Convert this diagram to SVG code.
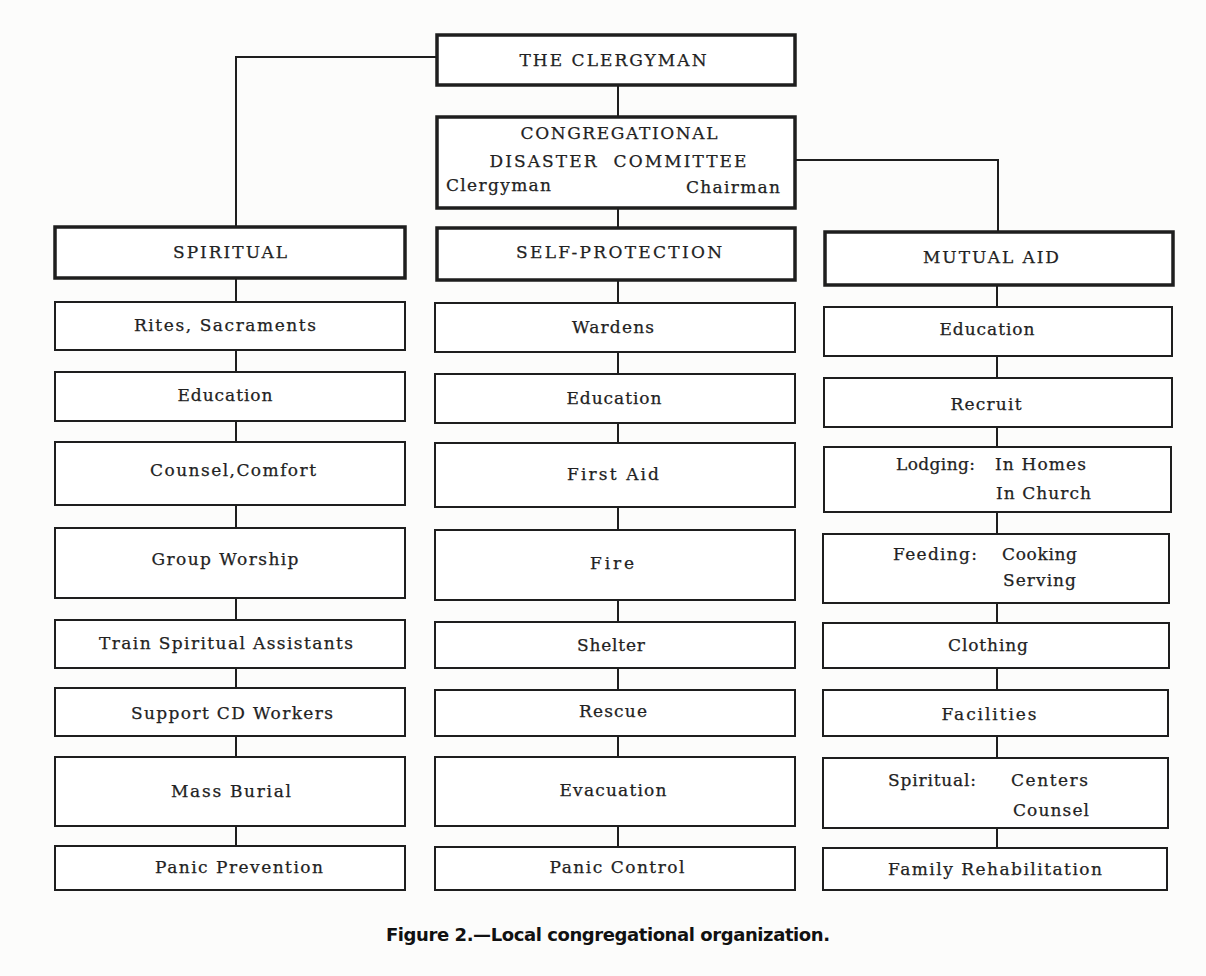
<svg xmlns="http://www.w3.org/2000/svg" width="1206" height="976" viewBox="0 0 1206 976">
<style>
.bx{fill:#fff;stroke:#1e1e1e;stroke-width:2}
.hd{fill:#fff;stroke:#1e1e1e;stroke-width:3.5}
.t{font-family:"DejaVu Serif","Liberation Serif",serif;font-size:17px;fill:#222;text-anchor:middle;stroke:#222;stroke-width:0.25}
.tl{font-family:"DejaVu Serif","Liberation Serif",serif;font-size:17px;fill:#222;text-anchor:start;stroke:#222;stroke-width:0.25}
.cn{fill:none;stroke:#1e1e1e;stroke-width:2}
.cap{font-family:"DejaVu Sans","Liberation Sans",sans-serif;font-size:18px;font-weight:bold;fill:#111;text-anchor:middle}
</style>
<rect width="1206" height="976" fill="#fcfcfb"/>
<g id="connectors">
<path class="cn" d="M437,57 H236 V227"/>
<path class="cn" d="M618,85 V117"/>
<path class="cn" d="M795,160 H998 V232"/>
<path class="cn" d="M618,208 V228"/>
<path class="cn" d="M236,278 V846"/>
<path class="cn" d="M618,280 V847"/>
<path class="cn" d="M997,285 V848"/>
</g>
<g id="clergyman"><rect class="hd" x="437" y="35" width="358" height="50"/><text class="t" x="613" y="66" textLength="187">THE CLERGYMAN</text></g>
<g id="committee"><rect class="hd" x="437" y="117" width="358" height="91"/>
<text class="t" x="619" y="139" textLength="197">CONGREGATIONAL</text>
<text class="t" x="618" y="167" textLength="257" xml:space="preserve">DISASTER  COMMITTEE</text>
<text class="tl" x="446" y="191" textLength="105">Clergyman</text>
<text class="tl" x="686" y="193" textLength="94">Chairman</text></g>

<g id="spiritual"><rect class="hd" x="55" y="227" width="350" height="51"/><text class="t" x="230" y="258" textLength="114">SPIRITUAL</text></g>
<g id="rites"><rect class="bx" x="55" y="302" width="350" height="48"/><text class="t" x="225" y="331" textLength="182">Rites, Sacraments</text></g>
<g id="education-s"><rect class="bx" x="55" y="372" width="350" height="49"/><text class="t" x="225" y="401" textLength="95">Education</text></g>
<g id="counsel"><rect class="bx" x="55" y="442" width="350" height="63"/><text class="t" x="233" y="476" textLength="166">Counsel,Comfort</text></g>
<g id="worship"><rect class="bx" x="55" y="528" width="350" height="70"/><text class="t" x="225" y="565" textLength="147">Group Worship</text></g>
<g id="train"><rect class="bx" x="55" y="620" width="350" height="48"/><text class="t" x="226" y="649" textLength="254">Train Spiritual Assistants</text></g>
<g id="support"><rect class="bx" x="55" y="688" width="350" height="48"/><text class="t" x="232" y="719" textLength="202">Support CD Workers</text></g>
<g id="burial"><rect class="bx" x="55" y="757" width="350" height="69"/><text class="t" x="231" y="797" textLength="120">Mass Burial</text></g>
<g id="panic-prev"><rect class="bx" x="55" y="846" width="350" height="44"/><text class="t" x="239" y="873" textLength="168">Panic Prevention</text></g>

<g id="selfprot"><rect class="hd" x="437" y="228" width="358" height="52"/><text class="t" x="619" y="258" textLength="206">SELF-PROTECTION</text></g>
<g id="wardens"><rect class="bx" x="435" y="303" width="360" height="49"/><text class="t" x="613" y="333" textLength="82">Wardens</text></g>
<g id="education-p"><rect class="bx" x="435" y="374" width="360" height="49"/><text class="t" x="614" y="404" textLength="95">Education</text></g>
<g id="firstaid"><rect class="bx" x="435" y="443" width="360" height="64"/><text class="t" x="613" y="480" textLength="92">First Aid</text></g>
<g id="fire"><rect class="bx" x="435" y="530" width="360" height="70"/><text class="t" x="612" y="569" textLength="44">Fire</text></g>
<g id="shelter"><rect class="bx" x="435" y="622" width="360" height="46"/><text class="t" x="611" y="651" textLength="68">Shelter</text></g>
<g id="rescue"><rect class="bx" x="435" y="690" width="360" height="46"/><text class="t" x="613" y="717" textLength="68">Rescue</text></g>
<g id="evacuation"><rect class="bx" x="435" y="757" width="360" height="69"/><text class="t" x="613" y="796" textLength="107">Evacuation</text></g>
<g id="panic-ctrl"><rect class="bx" x="435" y="847" width="360" height="43"/><text class="t" x="617" y="873" textLength="135">Panic Control</text></g>

<g id="mutualaid"><rect class="hd" x="825" y="232" width="348" height="53"/><text class="t" x="991" y="263" textLength="136">MUTUAL AID</text></g>
<g id="education-m"><rect class="bx" x="824" y="307" width="348" height="49"/><text class="t" x="987" y="335" textLength="95">Education</text></g>
<g id="recruit"><rect class="bx" x="824" y="378" width="348" height="49"/><text class="t" x="986" y="410" textLength="71">Recruit</text></g>
<g id="lodging"><rect class="bx" x="824" y="447" width="347" height="65"/>
<text class="tl" x="896" y="470" textLength="79">Lodging:</text>
<text class="tl" x="995" y="470" textLength="91">In Homes</text>
<text class="tl" x="996" y="499" textLength="95">In Church</text></g>
<g id="feeding"><rect class="bx" x="823" y="534" width="346" height="69"/>
<text class="tl" x="893" y="560" textLength="84">Feeding:</text>
<text class="tl" x="1002" y="560" textLength="75">Cooking</text>
<text class="tl" x="1003" y="586" textLength="73">Serving</text></g>
<g id="clothing"><rect class="bx" x="823" y="623" width="346" height="45"/><text class="t" x="988" y="651" textLength="80">Clothing</text></g>
<g id="facilities"><rect class="bx" x="823" y="690" width="345" height="46"/><text class="t" x="989" y="720" textLength="95">Facilities</text></g>
<g id="spiritual-m"><rect class="bx" x="823" y="758" width="345" height="70"/>
<text class="tl" x="888" y="786" textLength="88">Spiritual:</text>
<text class="tl" x="1011" y="786" textLength="77">Centers</text>
<text class="tl" x="1013" y="816" textLength="76">Counsel</text></g>
<g id="family"><rect class="bx" x="823" y="848" width="344" height="42"/><text class="t" x="995" y="875" textLength="214">Family Rehabilitation</text></g>

<text class="cap" x="608" y="941" textLength="444">Figure 2.—Local congregational organization.</text>
</svg>
